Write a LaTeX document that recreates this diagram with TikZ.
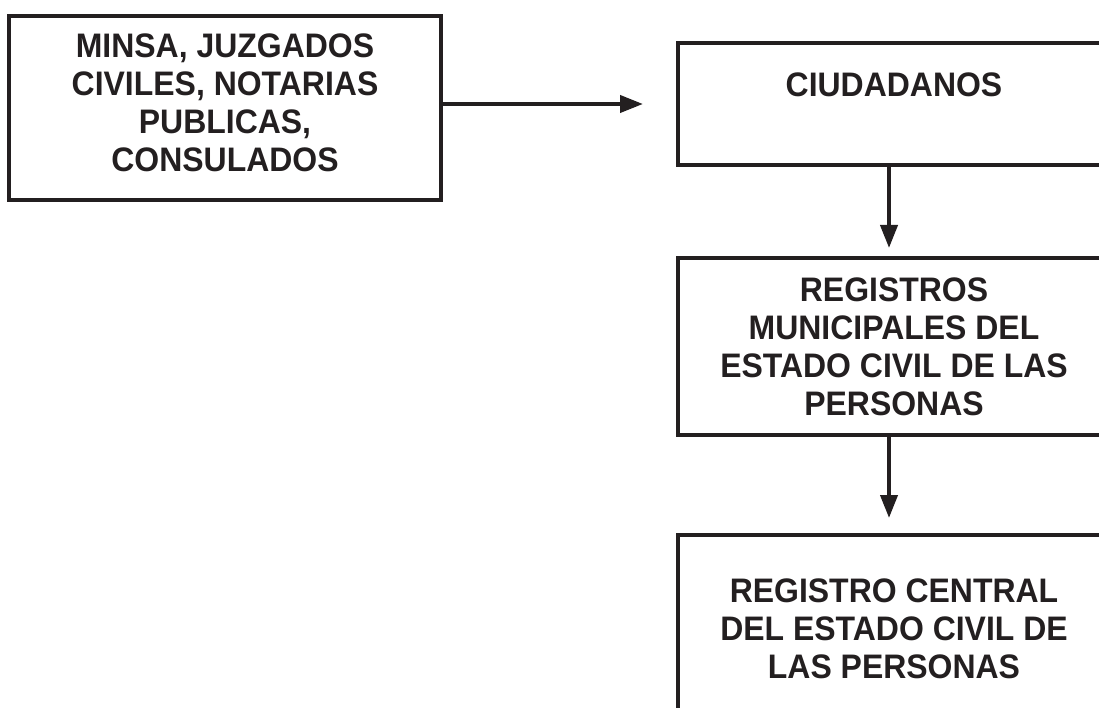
\documentclass[tikz,border=0pt]{standalone}
\usepackage{fontspec}
\setmainfont{Liberation Sans}[FakeStretch=0.94]
\usetikzlibrary{arrows.meta}
\definecolor{ink}{HTML}{231F20}
\begin{document}
\begin{tikzpicture}[x=1pt, y=-1pt,
    every node/.style={font=\bfseries\fontsize{34}{38}\selectfont, text=ink, align=center},
    box/.style={draw=ink, line width=4pt, minimum width=432pt},
    arr/.style={draw=ink, line width=4pt, -{Triangle[length=23pt,width=17pt]}}]
  \clip (0,0) rectangle (1099,708);
  \node[box, minimum height=184pt, text depth=11pt] (fuentes) at (225,108) {MINSA, JUZGADOS\\CIVILES, NOTARIAS\\PUBLICAS,\\CONSULADOS};
  \node[box, minimum height=122pt, text depth=39pt] (ciudadanos) at (894,104) {CIUDADANOS};
  \node[box, minimum height=177pt] (municipales) at (894,346.5) {REGISTROS\\MUNICIPALES DEL\\ESTADO CIVIL DE LAS\\PERSONAS};
  \node[box, minimum height=188pt] (central) at (894,629) {REGISTRO CENTRAL\\DEL ESTADO CIVIL DE\\LAS PERSONAS};

  \draw[arr, shorten >=33pt] (fuentes.east |- ciudadanos.west) -- (ciudadanos.west);
  \draw[arr, shorten >=8pt] ([xshift=-5pt]ciudadanos.south) -- ([xshift=-5pt]municipales.north);
  \draw[arr, shorten >=15pt] ([xshift=-5pt]municipales.south) -- ([xshift=-5pt]central.north);
\end{tikzpicture}
\end{document}
